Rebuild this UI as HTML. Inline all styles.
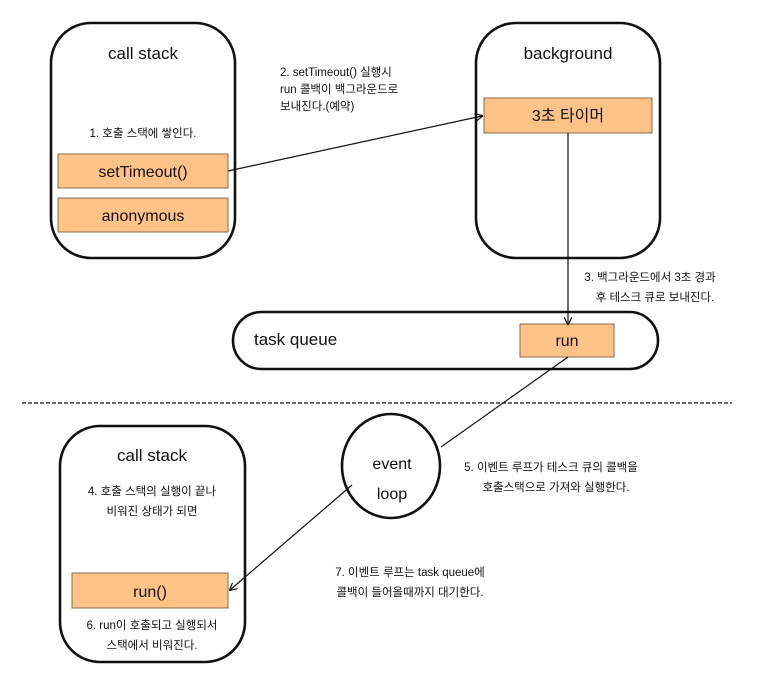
<!DOCTYPE html>
<html><head><meta charset="utf-8"><style>
html,body{margin:0;padding:0;background:#fff;}
svg{display:block;}
text{font-family:"Liberation Sans","Noto Sans CJK KR",sans-serif;fill:#111;}
.t{font-size:17px;}
.s{font-size:11.5px;}
.b{font-size:16px;}
</style></head><body>
<svg width="766" height="677" viewBox="0 0 766 677" xmlns="http://www.w3.org/2000/svg">
<defs><marker id="a" markerWidth="8" markerHeight="8" refX="7" refY="4" orient="auto" markerUnits="userSpaceOnUse"><path d="M0,0 L8,4 L0,8" fill="none" stroke="#111" stroke-width="1.2"/></marker></defs>
<g fill="none" stroke="#111" stroke-width="2.6">
<rect x="51" y="23" width="184" height="235" rx="40"/>
<rect x="476" y="23" width="184" height="235" rx="40"/>
<rect x="233" y="312" width="425" height="57" rx="28.5"/>
<rect x="60" y="426" width="185" height="236" rx="40"/>
<ellipse cx="391" cy="466" rx="49" ry="52"/>
</g>
<g fill="#FFC388" stroke="#8a6a4a" stroke-width="1">
<rect x="58" y="154" width="170" height="34"/>
<rect x="58" y="198" width="170" height="34"/>
<rect x="484" y="98" width="168" height="35"/>
<rect x="520" y="324" width="94" height="33"/>
<rect x="72" y="573" width="156" height="35"/>
</g>
<line x1="22" y1="403" x2="732" y2="403" stroke="#111" stroke-width="1.2" stroke-dasharray="4,2"/>
<g stroke="#111" stroke-width="1.2" fill="none">
<line x1="228" y1="171" x2="482" y2="116" marker-end="url(#a)"/>
<line x1="568" y1="133" x2="568" y2="324" marker-end="url(#a)"/>
<line x1="568" y1="357" x2="441" y2="447"/>
<line x1="352" y1="485" x2="230" y2="590" marker-end="url(#a)"/>
</g>
<g text-anchor="middle">
<text class="t" x="143" y="59">call stack</text>
<text class="s" x="143" y="137">1. 호출 스택에 쌓인다.</text>
<text class="b" x="143" y="177">setTimeout()</text>
<text class="b" x="143" y="221">anonymous</text>
<text class="t" x="568" y="59">background</text>
<text class="b" x="568" y="121">3초 타이머</text>
<text class="s" x="650" y="281">3. 백그라운드에서 3초 경과</text>
<text class="s" x="655" y="301">후 테스크 큐로 보내진다.</text>
<text class="b" x="567" y="346">run</text>
<text class="t" x="152" y="461">call stack</text>
<text class="s" x="152" y="495">4. 호출 스택의 실행이 끝나</text>
<text class="s" x="152" y="515">비워진 상태가 되면</text>
<text class="b" x="150" y="597">run()</text>
<text class="s" x="152" y="629">6. run이 호출되고 실행되서</text>
<text class="s" x="152" y="649">스택에서 비워진다.</text>
<text class="b" x="392" y="469">event</text>
<text class="b" x="392" y="499">loop</text>
<text class="s" x="551" y="471">5. 이벤트 루프가 테스크 큐의 콜백을</text>
<text class="s" x="556" y="491">호출스택으로 가져와 실행한다.</text>
<text class="s" x="410" y="576">7. 이벤트 루프는 task queue에</text>
<text class="s" x="410" y="596">콜백이 들어올때까지 대기한다.</text>
</g>
<text class="s" x="280" y="76">2. setTimeout() 실행시</text>
<text class="s" x="280" y="93">run 콜백이 백그라운드로</text>
<text class="s" x="280" y="110">보내진다.(예약)</text>
<text class="t" x="254" y="345">task queue</text>
</svg>
</body></html>
